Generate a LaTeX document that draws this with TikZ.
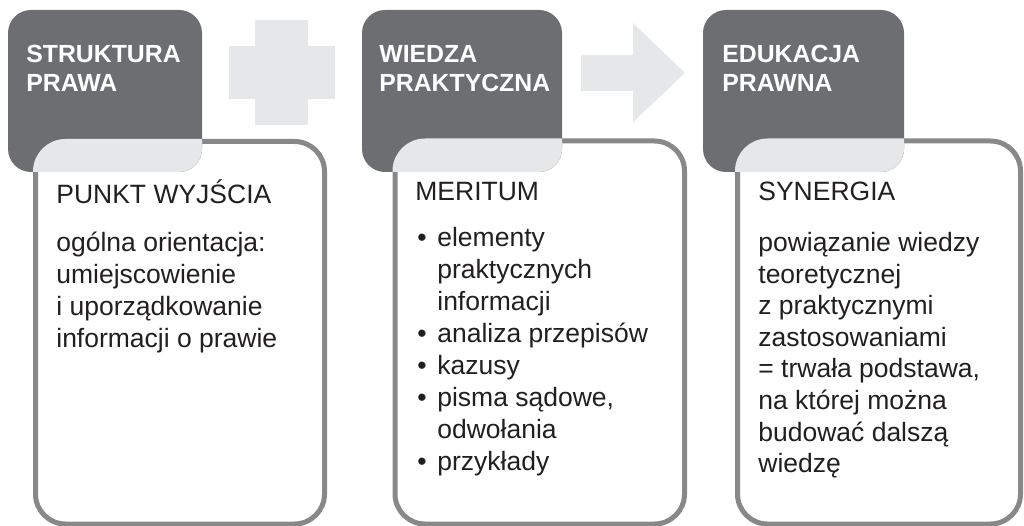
\documentclass[tikz,border=0pt]{standalone}
\usepackage{fontspec}
\setmainfont{Liberation Sans}
\definecolor{darkbox}{HTML}{6D6E71}
\definecolor{lightbox}{HTML}{E6E7E8}
\definecolor{framegrey}{HTML}{87888A}
\definecolor{inkgrey}{HTML}{231F20}
\newcommand{\txtlines}[1]{\parbox[t]{300pt}{\raggedright #1}}
\newcommand{\bul}{\makebox[22pt][l]{\hspace{2pt}\textbullet}}
\newcommand{\cont}{\hspace*{22pt}}
\tikzset{every picture/.style={line width=0.75pt}}
\tikzset{
  headbox/.style={fill=darkbox, rounded corners=23},
  bodybox/.style={draw=framegrey, fill=white, line width=5, rounded corners=30},
  overlapbox/.style={draw=lightbox, fill=lightbox, line width=5, rounded corners=30},
  sign/.style={fill=lightbox},
  headtext/.style={anchor=base west, inner sep=0, text=white, font=\fontsize{24.8}{29}\selectfont\bfseries},
  bodytext/.style={anchor=base west, inner sep=0, text=inkgrey, font=\fontsize{26.5}{#1}\selectfont},
  bodytext/.default=31.7
}

\begin{document}
\begin{tikzpicture}[x=1pt,y=1pt,yscale=-1,xscale=1]
	\useasboundingbox (0,0) rectangle (1024,526);

	%Shape: Plus
	\fill [sign] (255,20) rectangle (308,125);
	\fill [sign] (229,46) rectangle (335,99);
	%Shape: Right Arrow
	\fill [sign] (581,55) -- (633,55) -- (633,23) -- (685,73) -- (633,122) -- (633,91) -- (581,91) -- cycle;

	%Shape: Rounded Rect (column 1)
	\draw [bodybox] (35.5,141.5) rectangle (324.5,524);
	\fill [headbox] (8,10) rectangle (202,172);
	\begin{scope}
		\clip [rounded corners=23] (8,10) rectangle (202,172);
		\draw [overlapbox] (35.5,141.5) rectangle (324.5,524);
	\end{scope}

	%Shape: Rounded Rect (column 2)
	\draw [bodybox] (395,141) rectangle (684.5,524);
	\fill [headbox] (362,10) rectangle (562,172);
	\begin{scope}
		\clip [rounded corners=23] (362,10) rectangle (562,172);
		\draw [overlapbox] (395,141) rectangle (684.5,524);
	\end{scope}

	%Shape: Rounded Rect (column 3)
	\draw [bodybox] (737.5,141) rectangle (1020.5,524);
	\fill [headbox] (703,10) rectangle (904,172);
	\begin{scope}
		\clip [rounded corners=23] (703,10) rectangle (904,172);
		\draw [overlapbox] (737.5,141) rectangle (1020.5,524);
	\end{scope}

	% Text Node
	\node [headtext] (struktura) at (26,63) {\txtlines{STRUKTURA\\PRAWA}};
	% Text Node
	\node [headtext] (wiedza) at (379,63) {\txtlines{WIEDZA\\PRAKTYCZNA}};
	% Text Node
	\node [headtext] (edukacja) at (722,63) {\txtlines{EDUKACJA\\PRAWNA}};

	% Text Node
	\node [bodytext] (punkt) at (56,204) {PUNKT WYJŚCIA};
	% Text Node
	\node [bodytext=31.7] (orientacja) at (56,252) {\txtlines{ogólna orientacja:\\umiejscowienie\\i uporządkowanie\\informacji o prawie}};
	% Text Node
	\node [bodytext] (meritum) at (415,201) {MERITUM};
	% Text Node
	\node [bodytext=32] (elementy) at (415,247) {\txtlines{\bul elementy\\\cont praktycznych\\\cont informacji\\\bul analiza przepisów\\\bul kazusy\\\bul pisma sądowe,\\\cont odwołania\\\bul przykłady}};
	% Text Node
	\node [bodytext] (synergia) at (758,201) {SYNERGIA};
	% Text Node
	\node [bodytext=31.6] (powiazanie) at (758,251.5) {\txtlines{powiązanie wiedzy\\teoretycznej\\z praktycznymi\\zastosowaniami\\= trwała podstawa,\\na której można\\budować dalszą\\wiedzę}};

\end{tikzpicture}
\end{document}
